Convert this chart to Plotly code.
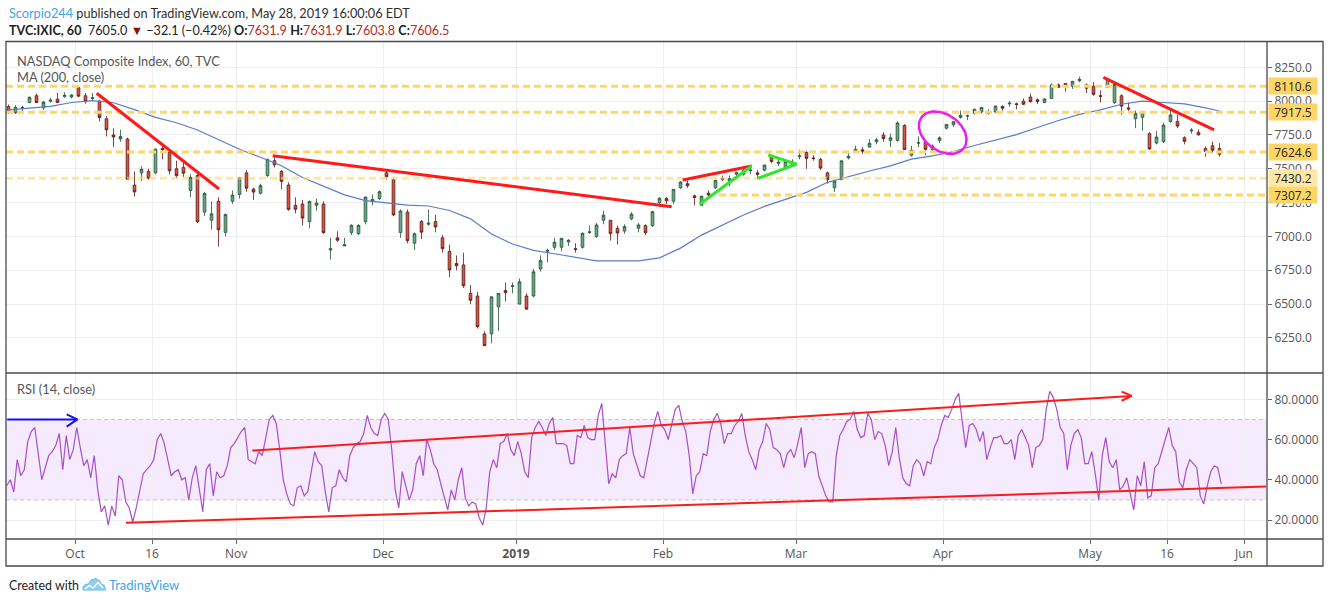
import math
import numpy as np
import pandas as pd
import plotly.graph_objects as go

# ---------------------------------------------------------------- data
HOLIDAYS = ["2018-11-22", "2018-12-05", "2018-12-25", "2019-01-01",
            "2019-01-21", "2019-02-18", "2019-04-19", "2019-05-27"]
START, AXIS_END = "2018-09-17", "2019-06-07"
BARS_PER_DAY = 7  # hourly bars in one session

opens = [7960, 7915, 7950, 7990, 8040, 7950, 8000, 8015, 8035, 8030,
         8100, 8040, 8020, 8000, 7870, 7750, 7720, 7720, 7380, 7470, 7480, 7470, 7650, 7620, 7500, 7510, 7340, 7450, 7180, 7120, 7260, 7030, 7260,
         7310, 7470, 7350, 7320, 7450, 7560, 7480, 7380, 7230, 7240, 7110, 7230, 7240, 6900, 6990, 6930, 7030, 7020, 7110, 7260, 7280,
         7470, 7420, 7030, 7180, 6950, 7110, 7090, 7110, 6990, 6890, 6800, 6790, 6580, 6560, 6280, 6280, 6480, 6600, 6630,
         6500, 6560, 6560, 6760, 6890, 6920, 6920, 6960, 6910, 6920, 7030, 7000, 7120, 7120, 7060, 7040, 7130, 7060, 7080, 7080, 7250,
         7280, 7260, 7360, 7390, 7300, 7230, 7320, 7360, 7430, 7410, 7460, 7460, 7490, 7470, 7490, 7590, 7540, 7500, 7550,
         7590, 7620, 7580, 7570, 7470, 7360, 7420, 7580, 7630, 7640, 7660, 7700, 7750, 7710, 7710, 7820, 7600, 7690, 7700, 7640, 7710,
         7800, 7825, 7880, 7890, 7910, 7920, 7920, 7920, 7960, 7980, 7980, 8000, 8030, 8010, 7990, 8020, 8120, 8130, 8110, 8150, 8120,
         8110, 8040, 8100, 7990, 8040, 7950, 7870, 7880, 7760, 7690, 7700, 7850, 7850, 7730, 7780, 7770, 7650, 7670, 7650]
highs = [7975, 7970, 7965, 8035, 8055, 8000, 8025, 8060, 8065, 8050,
         8115, 8060, 8060, 8010, 7890, 7800, 7790, 7730, 7480, 7520, 7500, 7650, 7670, 7640, 7560, 7560, 7460, 7470, 7330, 7260, 7290, 7170, 7340,
         7440, 7490, 7360, 7390, 7575, 7600, 7490, 7400, 7290, 7270, 7265, 7280, 7260, 6990, 7040, 6990, 7090, 7090, 7295, 7310, 7340,
         7490, 7430, 7200, 7200, 7030, 7120, 7200, 7160, 7010, 6940, 6860, 6880, 6640, 6590, 6300, 6555, 6580, 6660, 6660,
         6690, 6580, 6760, 6860, 6910, 6990, 6990, 6980, 6950, 7030, 7080, 7100, 7190, 7120, 7080, 7090, 7180, 7100, 7090, 7190, 7290,
         7290, 7350, 7410, 7410, 7310, 7300, 7340, 7420, 7450, 7450, 7480, 7500, 7520, 7490, 7530, 7600, 7580, 7560, 7570,
         7640, 7630, 7600, 7580, 7480, 7420, 7560, 7620, 7670, 7660, 7720, 7730, 7770, 7760, 7850, 7830, 7670, 7740, 7710, 7680, 7740,
         7830, 7850, 7930, 7900, 7945, 7955, 7940, 7965, 7970, 8000, 7990, 8020, 8055, 8020, 8020, 8130, 8130, 8135, 8150, 8180, 8130,
         8140, 8080, 8170, 8130, 8050, 7990, 7930, 7930, 7770, 7780, 7840, 7945, 7900, 7740, 7800, 7790, 7665, 7700, 7690]
lows = [7905, 7905, 7925, 7985, 7985, 7935, 7990, 7985, 8025, 8020,
        8030, 7980, 8010, 7850, 7740, 7660, 7700, 7420, 7295, 7410, 7420, 7460, 7570, 7460, 7430, 7440, 7290, 7100, 7150, 7050, 6925, 7000, 7240,
        7280, 7330, 7270, 7310, 7440, 7510, 7350, 7190, 7170, 7080, 7060, 7190, 7020, 6830, 6960, 6930, 7010, 7010, 7090, 7230, 7270,
        7420, 7150, 6990, 6950, 6900, 6980, 7080, 7030, 6880, 6700, 6750, 6620, 6500, 6320, 6190, 6210, 6300, 6520, 6580,
        6500, 6460, 6550, 6740, 6810, 6900, 6890, 6930, 6880, 6910, 7020, 6990, 7090, 6970, 6940, 7020, 7120, 7030, 7010, 7070, 7220,
        7240, 7240, 7350, 7360, 7230, 7230, 7290, 7350, 7410, 7370, 7440, 7450, 7460, 7420, 7480, 7540, 7520, 7490, 7520,
        7570, 7500, 7560, 7490, 7390, 7330, 7420, 7570, 7620, 7610, 7660, 7680, 7700, 7660, 7700, 7640, 7590, 7660, 7600, 7620, 7690,
        7790, 7810, 7870, 7860, 7900, 7910, 7900, 7915, 7930, 7960, 7940, 7970, 7990, 7980, 7985, 8020, 8100, 8070, 8090, 8140, 8060,
        8040, 7990, 8100, 7980, 7900, 7920, 7800, 7780, 7640, 7680, 7690, 7840, 7800, 7680, 7760, 7745, 7590, 7620, 7590]
closes = [7915, 7955, 7950, 8028, 7990, 7993, 8007, 7990, 8042, 8046,
          8037, 7999, 8025, 7879, 7788, 7735, 7738, 7422, 7329, 7497, 7430, 7645, 7642, 7485, 7449, 7468, 7437, 7108, 7318, 7167, 7050, 7162, 7306,
          7434, 7357, 7328, 7375, 7570, 7530, 7407, 7200, 7201, 7136, 7259, 7247, 7028, 6909, 6972, 6938, 7082, 7082, 7291, 7274, 7331,
          7441, 7159, 7188, 6969, 7020, 7032, 7098, 7070, 6910, 6753, 6784, 6636, 6528, 6333, 6193, 6554, 6579, 6585, 6635,
          6665, 6463, 6739, 6823, 6897, 6957, 6986, 6971, 6905, 7023, 7034, 7085, 7157, 7021, 7026, 7073, 7165, 7085, 7028, 7183, 7282,
          7263, 7348, 7402, 7375, 7288, 7298, 7307, 7414, 7421, 7427, 7472, 7487, 7490, 7459, 7528, 7554, 7549, 7555, 7533,
          7595, 7577, 7576, 7505, 7421, 7409, 7559, 7592, 7644, 7631, 7689, 7714, 7724, 7729, 7839, 7643, 7637, 7692, 7644, 7669, 7729,
          7828, 7848, 7895, 7891, 7939, 7954, 7909, 7964, 7948, 7985, 7976, 7977, 7996, 7998, 8016, 8120, 8102, 8119, 8146, 8161, 8095,
          8050, 8036, 8164, 8124, 7963, 7943, 7910, 7917, 7647, 7735, 7823, 7898, 7816, 7703, 7786, 7751, 7628, 7637, 7607]

# MA(200, close) read every 3rd session (plus the last one)
MA_STEP = 3
ma200 = [7935, 7948, 7962, 7990, 8004, 7988, 7937, 7880, 7840, 7787,
         7717, 7644, 7585, 7523, 7436, 7370, 7307, 7265, 7247, 7232,
         7225, 7192, 7130, 7018, 6944, 6897, 6872, 6843, 6819, 6819,
         6819, 6842, 6914, 7010, 7082, 7159, 7222, 7274, 7326, 7400,
         7444, 7484, 7522, 7571, 7596, 7628, 7672, 7710, 7753, 7805,
         7857, 7902, 7935, 7977, 8000, 7990, 7980, 7950, 7927]

# RSI(14) read twice per session
RSI_PER_DAY = 2
rsi = [37, 40, 34, 50, 42, 45, 59, 64, 66, 53, 40, 46, 52, 54, 57, 63, 45, 62, 50, 55,
       66, 56, 47, 50, 41, 52, 35, 24, 27, 17.5, 27, 22, 42, 40, 29, 26, 19, 26, 35, 43,
       45, 47, 50, 60, 63, 58, 50, 42, 44, 45, 40, 41, 30, 41, 47, 36, 24, 45, 48, 32,
       44, 41, 42, 47, 56, 58, 61, 64, 66, 50, 49, 48, 54, 52, 61, 70, 72, 68, 55, 40,
       33, 28, 27, 36, 37, 32, 34, 44, 54, 49, 47, 34, 24, 36, 37, 45, 41, 39, 52, 56,
       58, 59, 63, 72, 66, 63, 62, 70, 73, 70, 55, 35, 26, 44, 37, 30, 35, 48, 52, 42,
       60, 55, 48, 45, 38, 32, 25, 35, 30, 40, 46, 31, 27, 29, 28, 21, 17.5, 26, 44, 50,
       46, 58, 59, 63, 55, 52, 59, 53, 44, 41, 61, 66, 69, 66, 62, 68, 71, 58, 58, 58,
       57, 48, 48, 62, 61, 67, 61, 60, 60, 72, 78, 57, 38, 43, 41, 50, 52, 53, 66, 53,
       47, 42, 41, 51, 59, 68, 74, 67, 65, 60, 68, 75, 77, 69, 64, 52, 33, 42, 44, 53,
       52, 64, 70, 73, 68, 58, 63, 63, 67, 69, 73, 62, 54, 50, 45, 55, 59, 68, 65, 56,
       55, 53, 46, 53, 55, 51, 58, 66, 46, 53, 54, 53, 42, 37, 32, 29, 29, 52, 62, 65,
       69, 70, 74, 65, 61, 62, 73, 70, 60, 64, 63, 57, 47, 54, 66, 51, 41, 38, 37, 47,
       50, 48, 42, 49, 48, 56, 60, 67, 72, 71, 75, 80, 83, 69, 56, 67, 68, 65, 59, 64,
       50, 56, 61, 61, 62, 58, 58, 60, 50, 62, 65, 61, 57, 46, 56, 57, 60, 75, 84, 81,
       75, 66, 63, 45, 57, 63, 65, 61, 48, 48, 54, 43, 30, 52, 61, 49, 46, 50, 35, 37,
       41, 33, 25, 42, 37, 49, 31, 32, 46, 48, 54, 61, 66, 57, 54, 39, 36, 45, 50, 48,
       46, 32, 28, 37, 44, 47, 46, 38]

LEVELS = [8110.6, 7917.5, 7624.6, 7430.2, 7307.2]
LEVEL_FROM = {7307.2: "2019-02-13"}
LEVEL_PALE = {7430.2}

X_TICKS = [("Oct", "2018-10-01"), ("16", "2018-10-16"), ("Nov", "2018-11-01"),
           ("Dec", "2018-12-03"), ("<b>2019</b>", "2019-01-02"), ("Feb", "2019-02-01"),
           ("Mar", "2019-03-01"), ("Apr", "2019-04-01"), ("May", "2019-05-01"),
           ("16", "2019-05-16"), ("Jun", "2019-06-03")]
PRICE_TICKS = [6250, 6500, 6750, 7000, 7250, 7500, 7750, 8000, 8250]
RSI_TICKS = [20, 40, 60, 80]

# ---------------------------------------------------------------- geometry
W, H = 1330, 603
PL, PR, PT, PB = 6, 1267, 42, 539       # plot area in pixels
SPLIT = 373                              # price / RSI separator
X_RANGE = [1, 1262]
P_RANGE = [5991, 8437]
R_RANGE = [10.55, 93.1]


def xp(px):
    return (px - PL) / (PR - PL)


def yp(py):
    return (PB - py) / (PB - PT)


cal = [d for d in pd.bdate_range(START, AXIS_END) if d.strftime("%Y-%m-%d") not in HOLIDAYS]
day_start = {d.strftime("%Y-%m-%d"): i * BARS_PER_DAY for i, d in enumerate(cal)}
n = min(len(opens), len(highs), len(lows), len(closes))
xc = [i * BARS_PER_DAY + BARS_PER_DAY / 2 for i in range(n)]

ma_days = list(range(0, MA_STEP * (len(ma200) - 1), MA_STEP)) + [n - 1]
ma_x = [d * BARS_PER_DAY + BARS_PER_DAY / 2 for d in ma_days]
rsi_x = [(k // RSI_PER_DAY) * BARS_PER_DAY + (k % RSI_PER_DAY + 0.5) * BARS_PER_DAY / RSI_PER_DAY
         for k in range(len(rsi))]

tickvals = [day_start[d] for _, d in X_TICKS]
ticktext = [t for t, _ in X_TICKS]

RED = "#FF1A1A"
GREEN = "#2BE82B"
GRID = "#EFEFEF"
AXIS_TXT = "#555555"
FONT = "Open Sans"
TFONT = "Lato"

fig = go.Figure()

# candles
fig.add_trace(go.Candlestick(
    x=xc[:n], open=opens[:n], high=highs[:n], low=lows[:n], close=closes[:n],
    increasing=dict(line=dict(color="#225437", width=0.8), fillcolor="#6BA583"),
    decreasing=dict(line=dict(color="#5B1A13", width=0.8), fillcolor="#D75442"),
    whiskerwidth=0, hoverinfo="skip", showlegend=False, xaxis="x", yaxis="y"))

# moving average
fig.add_trace(go.Scatter(x=ma_x, y=ma200, mode="lines", line=dict(color="#5A7CC7", width=1.2),
                         hoverinfo="skip", showlegend=False, xaxis="x", yaxis="y"))

# horizontal levels
for lv in LEVELS:
    x0 = day_start[LEVEL_FROM[lv]] if lv in LEVEL_FROM else X_RANGE[0]
    col = "rgba(255,214,102,0.6)" if lv in LEVEL_PALE else "#FFD666"
    fig.add_trace(go.Scatter(x=[x0, X_RANGE[1]], y=[lv, lv], mode="lines",
                             line=dict(color=col, width=3, dash="7px,4px"),
                             hoverinfo="skip", showlegend=False, xaxis="x", yaxis="y"))

# trend drawings on the price pane (bar, price)
price_lines = [
    ((91.7, 8058), (214, 7351), RED),
    ((267.7, 7597), (666.7, 7220), RED),
    ((677.7, 7417), (746.7, 7521), RED),
    ((695, 7240), (746.7, 7521), GREEN),
    ((753.3, 7430), (791.7, 7535), GREEN),
    ((763.3, 7602), (791.7, 7535), GREEN),
    ((1098.3, 8176), (1209, 7787), RED),
]
for (a, b, c) in price_lines:
    fig.add_trace(go.Scatter(x=[a[0], b[0]], y=[a[1], b[1]], mode="lines",
                             line=dict(color=c, width=3), hoverinfo="skip",
                             showlegend=False, xaxis="x", yaxis="y"))

# magenta ellipse (pixel semi-axes, rotated)
ppp = (P_RANGE[1] - P_RANGE[0]) / (SPLIT - PT)
ecx, ecy, ea, eb, eth = 937.7, 7767, 26.2, 18.2, math.radians(35.3)
t = np.linspace(0, 2 * np.pi, 120)
ex = ecx + ea * np.cos(t) * math.cos(eth) - eb * np.sin(t) * math.sin(eth)
ey = ecy - ppp * (ea * np.cos(t) * math.sin(eth) + eb * np.sin(t) * math.cos(eth))
fig.add_trace(go.Scatter(x=ex, y=ey, mode="lines", line=dict(color="#F21BEF", width=2.5),
                         hoverinfo="skip", showlegend=False, xaxis="x", yaxis="y"))

# RSI band
fig.add_shape(type="rect", xref="x2", yref="y2", x0=X_RANGE[0], x1=X_RANGE[1], y0=30, y1=70,
              fillcolor="rgba(170,60,255,0.11)", line=dict(width=0), layer="below")
for lv in (30, 70):
    fig.add_shape(type="line", xref="x2", yref="y2", x0=X_RANGE[0], x1=X_RANGE[1], y0=lv, y1=lv,
                  line=dict(color="#C8C0CC", width=1, dash="4px,3px"), layer="below")

fig.add_trace(go.Scatter(x=rsi_x, y=rsi, mode="lines", line=dict(color="#A650C8", width=1.2),
                         hoverinfo="skip", showlegend=False, xaxis="x2", yaxis="y2"))

rsi_lines = [
    ([121, 1261], [18.6, 36.6], RED),
    ([247.3, 1126.7], [54.5, 81.7], RED),
    ([1116.7, 1126.7, 1116.7], [83.8, 81.7, 79.3], RED),
    ([2.3, 72.3], [70, 70], "#1010F0"),
    ([61.7, 72.3, 61.7], [72.5, 70, 66.4], "#1010F0"),
]
for xs, ys, c in rsi_lines:
    fig.add_trace(go.Scatter(x=xs, y=ys, mode="lines", line=dict(color=c, width=2),
                             hoverinfo="skip", showlegend=False, xaxis="x2", yaxis="y2"))

# ---------------------------------------------------------------- frame
frame = dict(color="#4A4A4A", width=1.3)
fig.add_shape(type="rect", xref="paper", yref="paper", x0=xp(6), x1=xp(1323),
              y0=yp(566), y1=yp(41.5), line=frame)
for yy in (SPLIT, PB):
    fig.add_shape(type="line", xref="paper", yref="paper", x0=xp(6), x1=xp(1323),
                  y0=yp(yy), y1=yp(yy), line=frame)
fig.add_shape(type="line", xref="paper", yref="paper", x0=1, x1=1, y0=yp(566), y1=yp(41.5),
              line=frame)

# ---------------------------------------------------------------- texts
ann = []


def txt(px, py, s, size=13, color="#333333", xanchor="left", family=TFONT, **kw):
    ann.append(dict(x=xp(px), y=yp(py), xref="paper", yref="paper", text=s, showarrow=False,
                    xanchor=xanchor, yanchor="middle", font=dict(family=family, size=size, color=color), **kw))


txt(7, 13, '<span style="color:#3DA5E8">Scorpio244</span> published on TradingView.com, May 28, 2019 16:00:06 EDT',
    size=12.7, color="#2E2E2E")
VR = "#B32B26"
ohlc = "".join('<b>{}:</b><span style="color:{}">{}</span> '.format(k, VR, v)
               for k, v in (("O", "7631.9"), ("H", "7631.9"), ("L", "7603.8"), ("C", "7606.5")))
txt(7, 30, '<b>TVC:IXIC, 60</b>\u00a0 7605.0 <span style="color:#8E1010">▼</span> −32.1 (−0.42%) ' + ohlc,
    size=12.6, color="#222222")
txt(15, 61, "NASDAQ Composite Index, 60, TVC", size=12.8, color="#555555")
txt(15, 77, "MA (200, close)", size=12.8, color="#555555")
txt(15, 389, "RSI (14, close)", size=12.8, color="#555555")
txt(7, 585, "Created with", size=12.4, color="#222222")
txt(107, 585, "TradingView", size=13, color="#3DA5E8")

# price level boxes
for lv in LEVELS:
    ann.append(dict(x=xp(1268), y=lv, xref="paper", yref="y", text="{:.1f}".format(lv), showarrow=False,
                    xanchor="left", yanchor="middle", width=46, height=14, borderpad=1,
                    bgcolor="#FFE7A6" if lv in LEVEL_PALE else "#FFD666",
                    font=dict(family=FONT, size=12, color="#222222")))

# TradingView logo (cloud)
cloud = [(83, 590), (83, 587), (85, 584.5), (88.5, 584), (91, 580), (95.5, 578.5), (99.5, 580.5),
         (101.5, 584), (104.5, 585.5), (105.5, 590)]
path = "M " + " L ".join("{:.5f},{:.5f}".format(xp(a), yp(b)) for a, b in cloud) + " Z"
fig.add_shape(type="path", xref="paper", yref="paper", path=path, fillcolor="#8CCFF2",
              line=dict(color="#6BBDEA", width=1))
zig = [(85, 589), (89.5, 585.5), (93, 588), (98, 582.5), (103, 588)]
path2 = "M " + " L ".join("{:.5f},{:.5f}".format(xp(a), yp(b)) for a, b in zig)
fig.add_shape(type="path", xref="paper", yref="paper", path=path2,
              line=dict(color="#FFFFFF", width=1.5))

fig.update_layout(
    width=W, height=H, autosize=False,
    margin=dict(l=PL, r=W - PR, t=PT, b=H - PB, pad=0),
    paper_bgcolor="white", plot_bgcolor="white",
    showlegend=False, annotations=ann, boxgap=0.45,
    font=dict(family=FONT, size=12, color=AXIS_TXT),
    xaxis=dict(domain=[0, 1], anchor="y", range=X_RANGE, tickvals=tickvals, showticklabels=False,
               showgrid=True, gridcolor=GRID, gridwidth=1, zeroline=False, showline=False,
               rangeslider=dict(visible=False), ticks=""),
    yaxis=dict(domain=[yp(SPLIT), 1], anchor="x", side="right", range=P_RANGE,
               tickvals=PRICE_TICKS, ticktext=["{:.1f}".format(v) for v in PRICE_TICKS],
               showgrid=True, gridcolor=GRID, zeroline=False, showline=False,
               ticks="outside", ticklen=4, tickcolor="#666666",
               tickfont=dict(family=FONT, size=12, color=AXIS_TXT)),
    xaxis2=dict(domain=[0, 1], anchor="y2", range=X_RANGE, tickvals=tickvals, ticktext=ticktext,
                showgrid=True, gridcolor=GRID, zeroline=False, showline=False,
                ticks="outside", ticklen=4, tickcolor="#666666",
                tickfont=dict(family=FONT, size=12, color=AXIS_TXT)),
    yaxis2=dict(domain=[0, yp(SPLIT)], anchor="x2", side="right", range=R_RANGE,
                tickvals=RSI_TICKS, ticktext=["{:.4f}".format(v) for v in RSI_TICKS],
                showgrid=True, gridcolor=GRID, zeroline=False, showline=False,
                ticks="outside", ticklen=4, tickcolor="#666666",
                tickfont=dict(family=FONT, size=12, color=AXIS_TXT)),
)

fig.write_html("out.html", config={"displayModeBar": False},
               post_script="document.body.style.margin='0px';")
